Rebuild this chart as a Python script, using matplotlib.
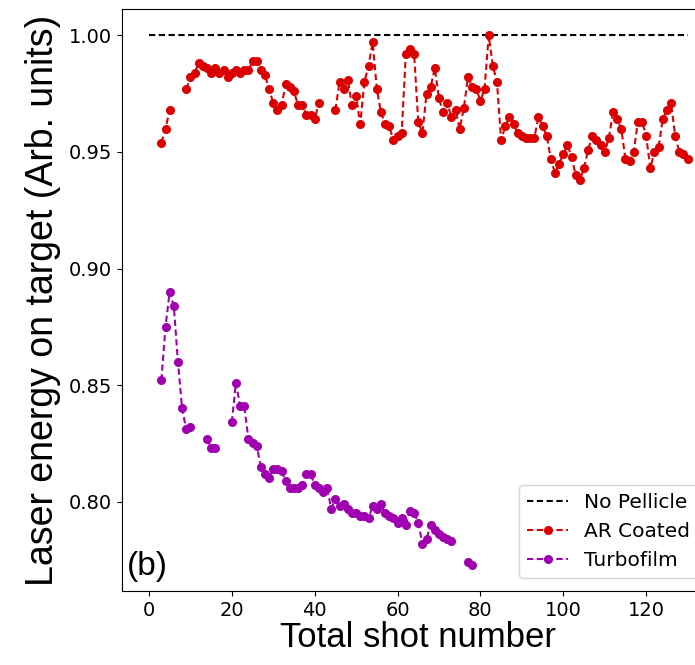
import numpy as np
import matplotlib
matplotlib.use("Agg")
import matplotlib.pyplot as plt

# no pellicle reference level
ref_shots = [0, 130]
ref_energy = [1.0, 1.0]

# AR coated pellicle (gaps where shots are missing)
ar_shots = [3, 4, 5] + list(range(9, 42)) + list(range(45, 131))
ar_energy = [
    0.954, 0.960, 0.968,
    0.977, 0.982, 0.984, 0.988, 0.987, 0.986, 0.984, 0.986, 0.984, 0.985,
    0.982, 0.984, 0.985, 0.984, 0.985, 0.985, 0.989, 0.989, 0.985, 0.983,
    0.977, 0.971, 0.968, 0.970, 0.979, 0.978, 0.976, 0.970, 0.970, 0.966,
    0.966, 0.964, 0.971,
    0.968, 0.980, 0.977, 0.981, 0.970, 0.974, 0.962, 0.980, 0.987, 0.997,
    0.977, 0.967, 0.962, 0.961, 0.955, 0.957, 0.958, 0.992, 0.994, 0.992,
    0.963, 0.958, 0.975, 0.978, 0.986, 0.973, 0.967, 0.971, 0.965, 0.968,
    0.960, 0.969, 0.982, 0.978, 0.977, 0.972, 0.977, 1.000, 0.987, 0.980,
    0.955, 0.961, 0.965, 0.962, 0.958, 0.957, 0.956, 0.956, 0.956, 0.965,
    0.961, 0.957, 0.947, 0.941, 0.945, 0.949, 0.953, 0.948, 0.940, 0.938,
    0.943, 0.951, 0.957, 0.955, 0.953, 0.950, 0.956, 0.967, 0.964, 0.960,
    0.947, 0.946, 0.950, 0.963, 0.963, 0.957, 0.943, 0.950, 0.952, 0.964,
    0.968, 0.971, 0.957, 0.950, 0.949, 0.947,
]

# Turbofilm pellicle
tf_shots = (list(range(3, 11)) + [14, 15, 16] + list(range(20, 74)) + [77, 78])
tf_energy = [
    0.852, 0.875, 0.890, 0.884, 0.860, 0.840, 0.831, 0.832,
    0.827, 0.823, 0.823,
    0.834, 0.851, 0.841, 0.841, 0.827, 0.825, 0.824, 0.815, 0.812, 0.810,
    0.814, 0.814, 0.813, 0.809, 0.806, 0.806, 0.806, 0.807, 0.812, 0.812,
    0.807, 0.806, 0.804, 0.806, 0.797, 0.801, 0.798, 0.799, 0.797, 0.795,
    0.795, 0.794, 0.794, 0.793, 0.798, 0.797, 0.799, 0.795, 0.794, 0.793,
    0.791, 0.793, 0.790, 0.796, 0.795, 0.791, 0.782, 0.784, 0.790, 0.788,
    0.786, 0.785, 0.784, 0.783,
    0.774, 0.773,
]


def with_gaps(shots, energy):
    # insert NaN where shot numbers jump so the dashed line breaks
    xs, ys = [], []
    for i, (s, e) in enumerate(zip(shots, energy)):
        if i > 0 and s - shots[i - 1] > 1:
            xs.append(np.nan)
            ys.append(np.nan)
        xs.append(s)
        ys.append(e)
    return xs, ys


fig = plt.figure(figsize=(6.95, 6.65), dpi=100)
ax = fig.add_axes([122 / 695, 74 / 665, 592.5 / 695, 582 / 665])

ax.plot(ref_shots, ref_energy, color='black', linestyle='--', dashes=(3, 1.7),
        linewidth=1.5, label='No Pellicle')
x, y = with_gaps(ar_shots, ar_energy)
ax.plot(x, y, color='#dd0000', linestyle='--', dashes=(3, 1.7), linewidth=1.5,
        marker='o', markersize=5.5, label='AR Coated')
x, y = with_gaps(tf_shots, tf_energy)
ax.plot(x, y, color='#a000b0', linestyle='--', dashes=(3, 1.7), linewidth=1.5,
        marker='o', markersize=5.5, label='Turbofilm')

ax.set_xticks([0, 20, 40, 60, 80, 100, 120])
ax.set_yticks([0.80, 0.85, 0.90, 0.95, 1.00])
ax.tick_params(labelsize=14)
ax.set_xlabel('Total shot number', fontsize=25, family='Liberation Sans', labelpad=1)
ax.set_ylabel('Laser energy on target (Arb. units)', fontsize=27,
              family='Liberation Sans', labelpad=6)
ax.text(0.008, 0.015, '(b)', transform=ax.transAxes, fontsize=24,
        family='Liberation Sans', ha='left', va='bottom')
ax.legend(loc='lower right', bbox_to_anchor=(0.972, 0.022), borderaxespad=0,
          fontsize=14.5)

fig.savefig('out.png', dpi=100)
